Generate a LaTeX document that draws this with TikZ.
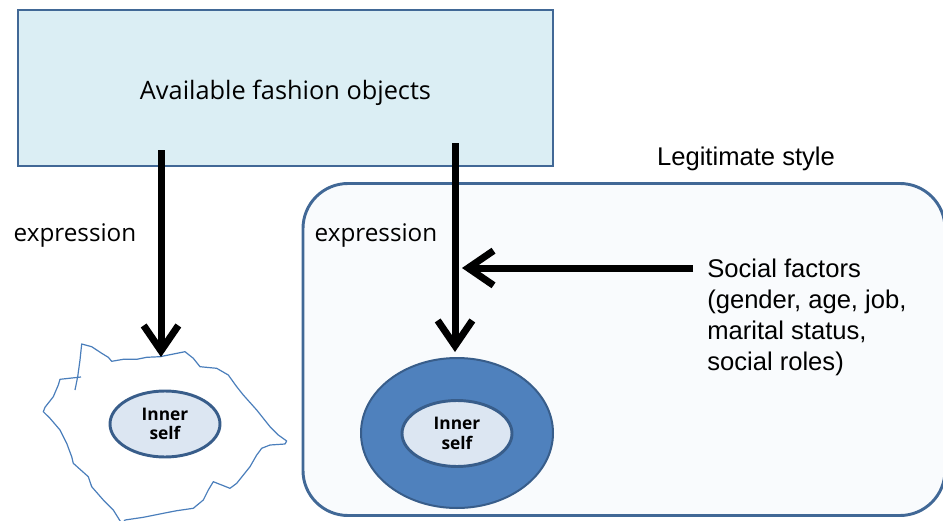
\documentclass[tikz,border=0pt]{standalone}
\usepackage{fontspec}
\newfontfamily\segfont{Open Sans}
\newfontfamily\arifont{Liberation Sans}
\usetikzlibrary{arrows.meta,shapes.geometric}
\definecolor{boxfill}{RGB}{219,238,244}
\definecolor{boxline}{RGB}{65,104,150}
\definecolor{legfill}{RGB}{249,251,253}
\definecolor{outerfill}{RGB}{79,129,189}
\definecolor{ringline}{RGB}{56,93,138}
\definecolor{innerfill}{RGB}{220,230,242}
\definecolor{blobline}{RGB}{74,126,187}
\begin{document}
\begin{tikzpicture}[x=0.75pt,y=-0.75pt,
  topbox/.style={draw=boxline,fill=boxfill,line width=1.8pt,minimum width=401.25pt,minimum height=117pt,inner sep=0pt,
    font=\segfont\fontsize{19}{23}\selectfont},
  legbox/.style={draw=boxline,fill=legfill,line width=2.2pt,minimum width=481.5pt,minimum height=249pt,rounded corners=33.75pt,inner sep=0pt},
  lbl/.style={inner sep=0pt,font=\segfont\fontsize{18.2}{22}\selectfont},
  arlbl/.style={inner sep=0pt,font=\arifont\fontsize{19.2}{23.25}\selectfont},
  outerell/.style={ellipse,draw=ringline,fill=outerfill,line width=1.5pt,minimum width=144pt,minimum height=112.5pt,inner sep=0pt},
  innerell/.style={ellipse,draw=ringline,fill=innerfill,line width=2.2pt,minimum width=82.5pt,minimum height=49.5pt,inner sep=0pt,
    align=center,font=\segfont\bfseries\fontsize{13}{14.8}\selectfont},
  bigarrow/.style={line width=5.25pt,-{Straight Barb[length=19pt,width=26pt]}},
  blob/.style={draw=blobline,line width=0.9pt,line join=round}
]
\useasboundingbox (0,0) rectangle (943,521);

% frames
\node[legbox] (leg) at (624,349.5) {};
\node[arlbl] (legtxt) at (746,159) {Legitimate style};
\node[topbox] (avail) at (285.5,88) {};
\node[inner sep=0pt,font=\segfont\fontsize{19}{23}\selectfont] (availtxt) at (285.5,93) {Available fashion objects};

% left irregular outline
\draw[blob] plot coordinates {(75,390) (77.7,376.7) (80,360) (81.7,344) (91.7,346.7) (101.7,353.3) (108.3,357.3)
 (111.7,361.3) (123.3,359.3) (136.7,359.3) (146.7,357.3) (160,356.7) (170,354.7) (185,351.7) (193.3,358.3)
 (200,366.7) (216.7,368.3) (228.3,375) (236.7,386.7) (243.3,395) (256.7,410) (270,426.7) (278.3,435)
 (286.7,441) (285,444) (270,445) (261.7,448.3) (256.7,455) (250,466.7) (236.7,483.3) (230,488.3)
 (213.3,481.7) (208.3,490) (203.3,500) (193.3,508.3) (176.7,510.7) (163.3,513.3) (143.3,517.3) (125,520)
 (122,524) (113.3,510) (103.3,500) (91.7,486.7) (88.3,476.7) (73.3,463.3) (71.7,456.7) (66.7,443.3)
 (60,430) (50,418.3) (43.3,411.7) (45,407.3) (53.3,396.7) (58.3,385) (60,379.3) (78.3,377.3) (81,377)};

% ellipses
\node[innerell] (selfA) at (165,424) {Inner\\self};
\node[outerell] (ring) at (457,433) {};
\node[innerell] (selfB) at (457,433.5) {Inner\\self};

% labels
\node[lbl] (exA) at (75,236) {expression};
\node[lbl] (exB) at (376,236) {expression};
\node[arlbl,anchor=north west,align=left] (soc) at (707,259)
  {Social factors\\(gender, age, job,\\marital status,\\social roles)};

% connectors
\coordinate (a1) at (161,150);
\coordinate (a2) at (161,357);
\coordinate (b1) at (455,143);
\coordinate (b2) at (455,352);
\coordinate (c1) at (693,268);
\coordinate (c2) at (462,268);
\draw[bigarrow] (a1) -- (a2);
\draw[bigarrow] (b1) -- (b2);
\draw[bigarrow] (c1) -- (c2);
\end{tikzpicture}
\end{document}
